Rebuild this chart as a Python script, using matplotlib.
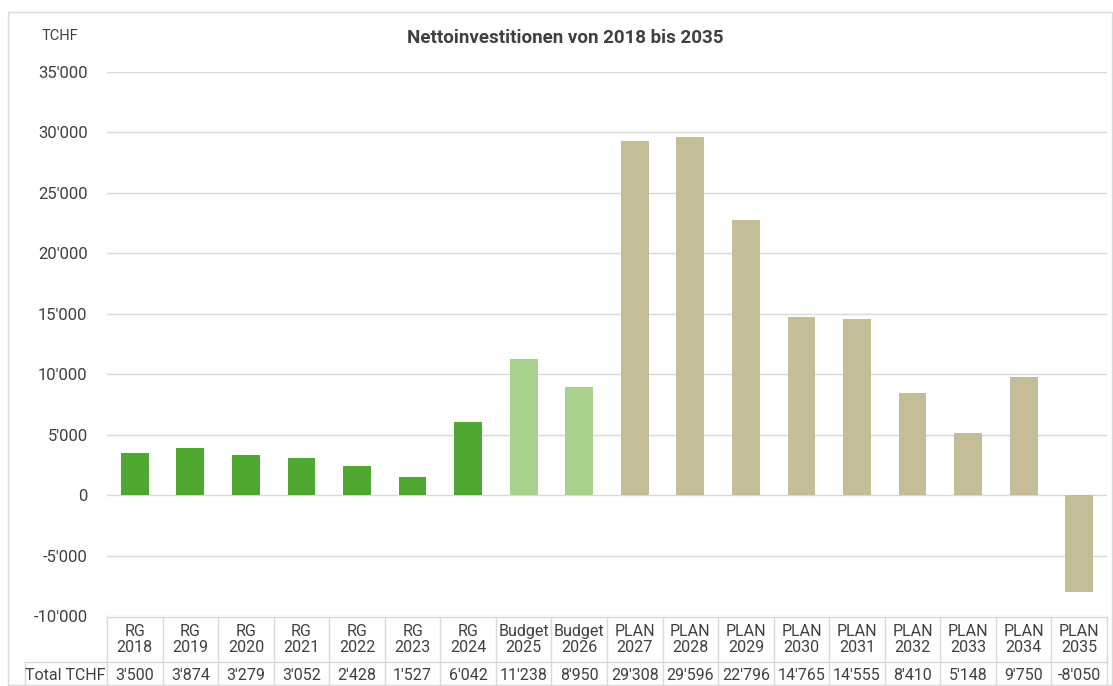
import matplotlib
matplotlib.use("Agg")
import matplotlib.pyplot as plt
from matplotlib.patches import Rectangle
from matplotlib.lines import Line2D

plt.rcParams['font.family'] = ['Roboto', 'DejaVu Sans']

# data
kind = ['RG'] * 7 + ['Budget'] * 2 + ['PLAN'] * 9
years = list(range(2018, 2036))
values = [3500, 3874, 3279, 3052, 2428, 1527, 6042, 11238, 8950,
          29308, 29596, 22796, 14765, 14555, 8410, 5148, 9750, -8050]
value_labels = ["3'500", "3'874", "3'279", "3'052", "2'428", "1'527", "6'042", "11'238", "8'950",
                "29'308", "29'596", "22'796", "14'765", "14'555", "8'410", "5'148", "9'750", "-8'050"]
colors = {'RG': '#4ea72e', 'Budget': '#a9d18e', 'PLAN': '#c4bd97'}

W, H = 1113, 686
txt = '#404040'
grid = '#d9d9d9'

fig = plt.figure(figsize=(W / 100, H / 100), dpi=100)

def fx(px):
    return px / W

def fy(py):
    return 1 - py / H

# outer frame
fig.patches.append(Rectangle((fx(8), fy(685)), fx(1112) - fx(8), fy(12) - fy(685),
                             transform=fig.transFigure, fill=False, edgecolor='#d9d9d9', lw=1))

ax = fig.add_axes([fx(107), fy(616), fx(1107) - fx(107), fy(72) - fy(616)])
x = list(range(len(values)))
ax.bar(x, values, width=0.5, color=[colors[k] for k in kind], zorder=3)
ax.set_xlim(-0.5, len(values) - 0.5)
ax.set_ylim(-10000, 35000)
ticks = list(range(-10000, 35001, 5000))
ax.set_yticks(ticks)
ax.set_yticklabels(["{:,}".format(t).replace(',', "'") for t in ticks], fontsize=12, color=txt)
ax.tick_params(axis='y', length=0, pad=14)
ax.set_xticks([])
ax.yaxis.grid(True, color=grid, lw=1, zorder=0)
for s in ax.spines.values():
    s.set_visible(False)

# title
fig.text(fx(565), fy(38), 'Nettoinvestitionen von 2018 bis 2035', ha='center', va='center',
         fontsize=13.5, fontweight='bold', color=txt)
fig.text(fx(60), fy(36), 'TCHF', ha='center', va='center', fontsize=10.5, color=txt)

# data table under the chart
col_w = (1107 - 107) / len(values)
top, mid, bot = 617, 662, 686
fig.lines.append(Line2D([fx(107), fx(1107)], [fy(top), fy(top)], transform=fig.transFigure, color=grid, lw=1))
fig.lines.append(Line2D([fx(25), fx(1107)], [fy(mid), fy(mid)], transform=fig.transFigure, color=grid, lw=1))
fig.lines.append(Line2D([fx(25), fx(25)], [fy(mid), fy(bot)], transform=fig.transFigure, color=grid, lw=1))
for i in range(len(values) + 1):
    xp = 107 + i * col_w
    fig.lines.append(Line2D([fx(xp), fx(xp)], [fy(top), fy(bot)], transform=fig.transFigure, color=grid, lw=1))
for i in range(len(values)):
    xc = 107 + (i + 0.5) * col_w
    fig.text(fx(xc), fy((top + mid) / 2), kind[i] + '\n' + str(years[i]), ha='center', va='center',
             fontsize=11.5, color=txt, linespacing=1.1)
    fig.text(fx(xc), fy((mid + bot) / 2 + 1), value_labels[i], ha='center', va='center',
             fontsize=11.5, color=txt)
fig.text(fx(65), fy((mid + bot) / 2 + 1), 'Total TCHF', ha='center', va='center', fontsize=11.5, color=txt)

fig.savefig('out.png', dpi=100)
